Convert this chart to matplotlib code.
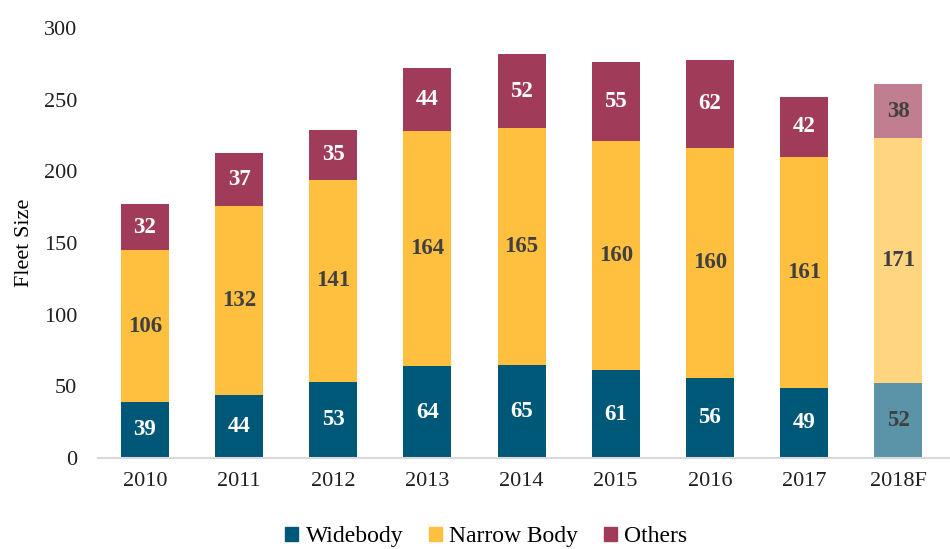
import matplotlib.pyplot as plt
import numpy as np
from matplotlib.patches import Patch
from matplotlib.font_manager import FontProperties

years = ["2010", "2011", "2012", "2013", "2014", "2015", "2016", "2017", "2018F"]
widebody = [39, 44, 53, 64, 65, 61, 56, 49, 52]
narrow = [106, 132, 141, 164, 165, 160, 160, 161, 171]
others = [32, 37, 35, 44, 52, 55, 62, 42, 38]

plt.rcParams['font.family'] = ['Liberation Serif', 'DejaVu Serif']

fig = plt.figure(figsize=(9.5, 5.49), dpi=100)
ax = fig.add_axes([0.103, 0.166, 0.897, 0.783])

x = np.arange(len(years))
w = 0.51
# actual years solid, forecast lighter
wb_col = ["#005878"] * 8 + ["#5B93A8"]
nb_col = ["#FFC03F"] * 8 + ["#FFD580"]
ot_col = ["#A03C5A"] * 8 + ["#C07E90"]

ax.bar(x, widebody, w, color=wb_col)
ax.bar(x, narrow, w, bottom=widebody, color=nb_col)
bot2 = np.array(widebody) + np.array(narrow)
ax.bar(x, others, w, bottom=bot2, color=ot_col)

for i in range(len(years)):
    fc = "#404040" if i == len(years) - 1 else "white"
    ax.text(x[i], widebody[i] / 2, str(widebody[i]), ha="center", va="center",
            color=fc, fontsize=16.5, fontweight="bold")
    ax.text(x[i], widebody[i] + narrow[i] / 2, str(narrow[i]), ha="center", va="center",
            color="#404040", fontsize=16.5, fontweight="bold")
    ax.text(x[i], bot2[i] + others[i] / 2, str(others[i]), ha="center", va="center",
            color=fc, fontsize=16.5, fontweight="bold")

ax.set_xlim(-0.5, 8.55)
ax.set_ylim(0, 300)
ax.set_yticks(range(0, 301, 50))
ax.set_xticks(x)
ax.set_xticklabels(years)
ax.tick_params(axis="both", length=0, labelsize=16, colors="#202020")
ax.tick_params(axis="x", pad=10)
ax.tick_params(axis="y", pad=15)
for s in ["top", "right", "left"]:
    ax.spines[s].set_visible(False)
ax.spines["bottom"].set_color("#D9D9D9")
ax.spines["bottom"].set_linewidth(1.5)
ax.set_ylabel("Fleet Size", fontsize=16)
ax.yaxis.set_label_coords(-0.075, 0.5)

handles = [Patch(color="#005878"), Patch(color="#FFC03F"), Patch(color="#A03C5A")]
fig.legend(handles, ["Widebody", "Narrow Body", "Others"], loc="center",
           bbox_to_anchor=(0.512, 0.022), ncol=3, frameon=False,
           prop=FontProperties(family="Liberation Serif", size=17),
           handlelength=0.55, handleheight=0.55, handletextpad=0.3, columnspacing=1.1)

fig.savefig("out.png", dpi=100)
